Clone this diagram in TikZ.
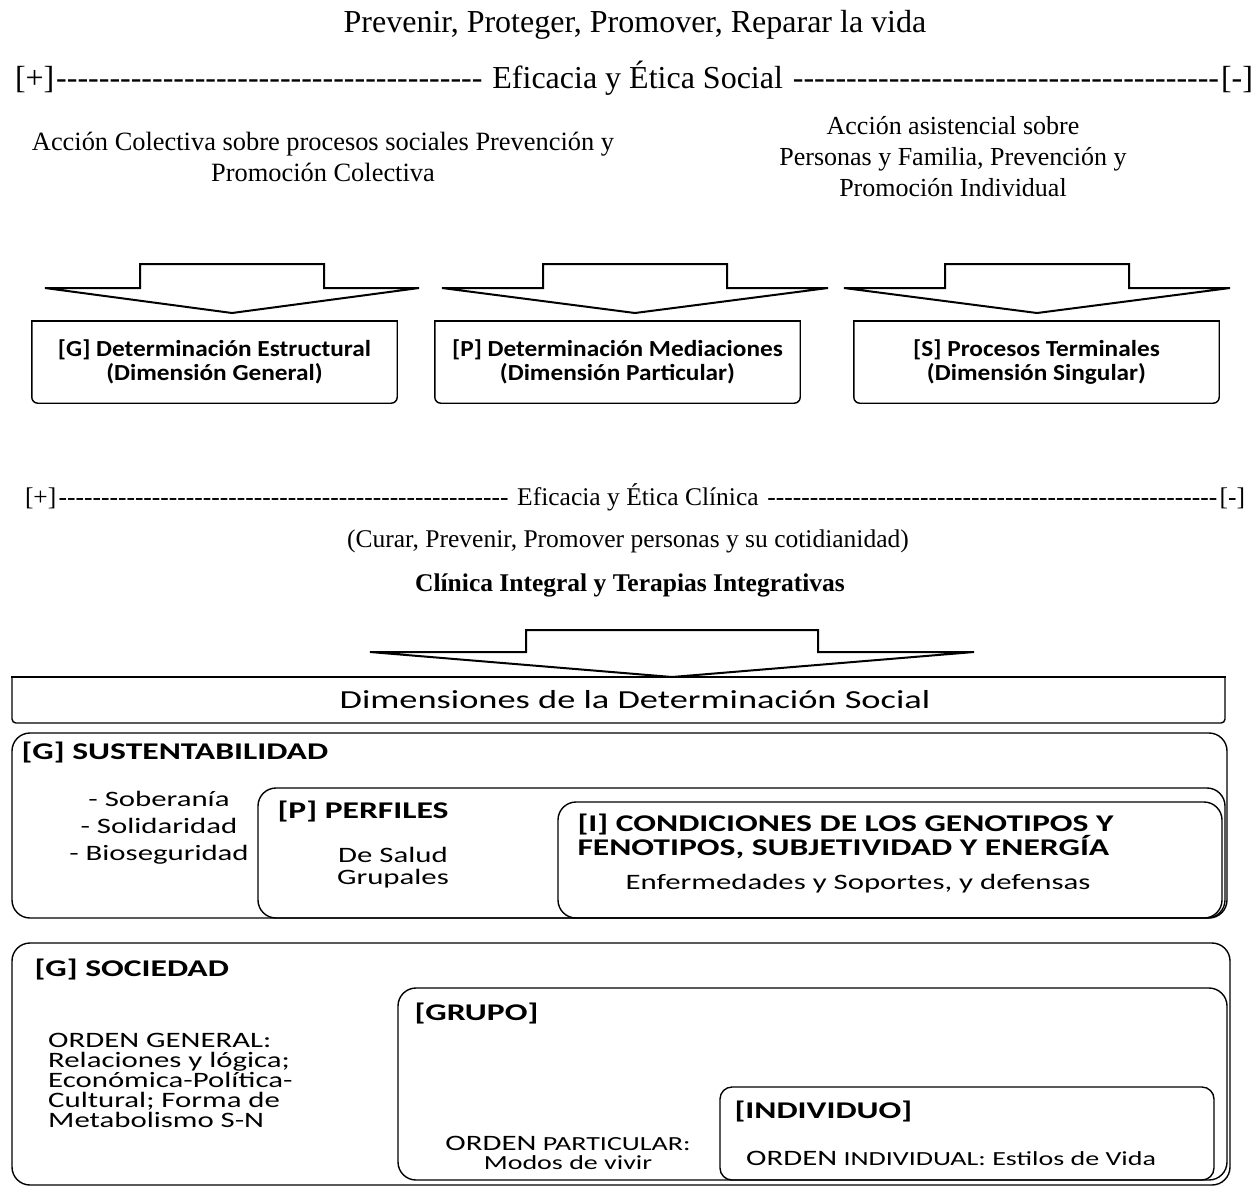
\documentclass[tikz,border=0pt]{standalone}
\usepackage{fontspec}
\setmainfont{Liberation Serif}
\newfontfamily\boxfont[FakeStretch=1.1]{Carlito}
\newfontfamily\dimfont[FakeStretch=1.4]{Carlito}
\usetikzlibrary{positioning}

\tikzset{
  pics/bigarrow/.style n args={4}{code={
      \draw[line width=2pt, line join=miter] (-#1,0) -- (#1,0) -- (#1,#3) -- (#2,#3)
        -- (0,{#3+#4}) -- (-#2,#3) -- (-#1,#3) -- cycle;
  }},
  serif/.style={inner sep=0pt, align=center, font=\fontsize{26}{31}\selectfont},
  detbox/.style={minimum width=365pt, minimum height=82pt, inner sep=0pt, align=center,
      font=\boxfont\bfseries\fontsize{23}{24}\selectfont},
  detframe/.style={line width=1.4pt},
  dimbox/.style={draw, line width=1.4pt, rounded corners=18pt, inner sep=0pt},
  boxtitle/.style={inner sep=0pt, align=left, font=\dimfont\bfseries\fontsize{24}{23}\selectfont},
  boxtext/.style={inner sep=0pt, align=center, font=\dimfont\fontsize{22}{27}\selectfont}
}

\begin{document}
\begin{tikzpicture}[x=1pt,y=-1pt]
    \useasboundingbox (0,0) rectangle (1256,1187);

    % top part
    \node[serif, font=\fontsize{32}{38}\selectfont] (vida) at (635,25) {Prevenir, Proteger, Promover, Reparar la vida};
    \node[serif, font=\fontsize{32}{38}\selectfont] (social) at (634,78)
        {\makebox[1238pt]{[+]\cleaders\hbox{-}\hfill{} Eficacia y Ética Social {}\cleaders\hbox{-}\hfill[-]}};
    \node[serif, font=\fontsize{26.4}{31}\selectfont] (colectiva) at (323,157) {Acción Colectiva sobre procesos sociales Prevención y\\Promoción Colectiva};
    \node[serif] (asistencial) at (953,157) {Acción asistencial sobre\\Personas y Familia, Prevención y\\Promoción Individual};

    \pic (arrowG) at (232,264) {bigarrow={92}{187}{24}{25}};
    \pic (arrowP) at (635,264) {bigarrow={92}{193}{24}{25}};
    \pic (arrowS) at (1037,264) {bigarrow={92}{193}{24}{25}};

    \node[detbox] (estructural) at (214.5,362) {[G] Determinación Estructural\\(Dimensión General)};
    \node[detbox] (mediaciones) at (617.5,362) {[P] Determinación Mediaciones\\(Dimensión Particular)};
    \node[detbox] (terminales) at (1036.5,362) {[S] Procesos Terminales\\(Dimensión Singular)};
    \foreach \b in {estructural,mediaciones,terminales}{
        \draw[detframe, rounded corners=6pt] (\b.north west) -- (\b.south west) -- (\b.south east) -- (\b.north east);
        \draw[detframe, line cap=rect] (\b.north west) -- (\b.north east);
    }

    % clinical part
    \node[serif, font=\fontsize{25.5}{30}\selectfont] (clinica) at (635,497)
        {\makebox[1220pt]{[+]\cleaders\hbox{-}\hfill{} Eficacia y Ética Clínica {}\cleaders\hbox{-}\hfill[-]}};
    \node[serif, font=\fontsize{25.5}{30}\selectfont] (curar) at (628,541) {(Curar, Prevenir, Promover personas y su cotidianidad)};
    \node[serif, font=\bfseries\fontsize{25.5}{30}\selectfont] (integral) at (630,585) {Clínica Integral y Terapias Integrativas};

    \pic (arrowD) at (672,630) {bigarrow={146}{302}{22}{25}};

    \coordinate (dimNW) at (12,677);
    \coordinate (dimSE) at (1225,723);
    \node[inner sep=0pt, font=\dimfont\fontsize{26}{30}\selectfont] (dimensiones) at (635,700) {Dimensiones de la Determinación Social};
    \draw[detframe, rounded corners=4pt] (dimNW) -- (dimNW |- dimSE) -- (dimSE) -- (dimSE |- dimNW);
    \draw[detframe, line cap=rect] (dimNW) -- (dimSE |- dimNW);

    % dimensiones
    \node[dimbox, minimum width=1215pt, minimum height=185pt] (sustentabilidad) at (619.5,825.5) {};
    \node[dimbox, minimum width=967pt, minimum height=130pt] (perfiles) at (741.5,853) {};
    \node[dimbox, minimum width=664pt, minimum height=116pt] (condiciones) at (890,860) {};

    \node[boxtitle, below right=9pt and 10pt of sustentabilidad.north west] (sustT) {[G] SUSTENTABILIDAD};
    \node[boxtext] (soberania) at (159,828) {- Soberanía\\- Solidaridad\\- Bioseguridad};
    \node[boxtitle, below right=13pt and 20pt of perfiles.north west] (perfilesT) {[P] PERFILES};
    \node[boxtext, font=\dimfont\fontsize{22}{22}\selectfont] (salud) at (393,868) {De Salud\\Grupales};
    \node[boxtitle, below right=12pt and 20pt of condiciones.north west] (condicionesT)
        {[I] CONDICIONES DE LOS GENOTIPOS Y\\FENOTIPOS, SUBJETIVIDAD Y ENERGÍA};
    \node[boxtext] (enfermedades) at (858,884) {Enfermedades y Soportes, y defensas};

    \node[dimbox, minimum width=1218pt, minimum height=242pt] (sociedad) at (621,1064) {};
    \node[dimbox, minimum width=829pt, minimum height=192pt] (grupo) at (812.5,1084) {};
    \node[dimbox, rounded corners=12pt, minimum width=494pt, minimum height=93pt] (individuo) at (967,1133.5) {};

    \node[boxtitle, below right=16pt and 23pt of sociedad.north west] (sociedadT) {[G] SOCIEDAD};
    \node[boxtext, anchor=west, align=left, font=\dimfont\fontsize{22}{20}\selectfont] (general) at (48,1080)
        {ORDEN GENERAL:\\Relaciones y lógica;\\Económica-Política-\\Cultural; Forma de\\Metabolismo S-N};
    \node[boxtitle, below right=15pt and 17pt of grupo.north west] (grupoT) {[GRUPO]};
    \node[boxtext, font=\dimfont\fontsize{20}{19}\selectfont] (particular) at (568,1153)
        {{\fontsize{22}{19}\selectfont ORDEN} PARTICULAR:\\Modos de vivir};
    \node[boxtitle, below right=14pt and 15pt of individuo.north west] (individuoT) {[INDIVIDUO]};
    \node[boxtext, anchor=west, font=\dimfont\fontsize{20}{20}\selectfont] (estilos) at (746,1158)
        {{\fontsize{22}{20}\selectfont ORDEN} INDIVIDUAL: Estilos de Vida};
\end{tikzpicture}
\end{document}
